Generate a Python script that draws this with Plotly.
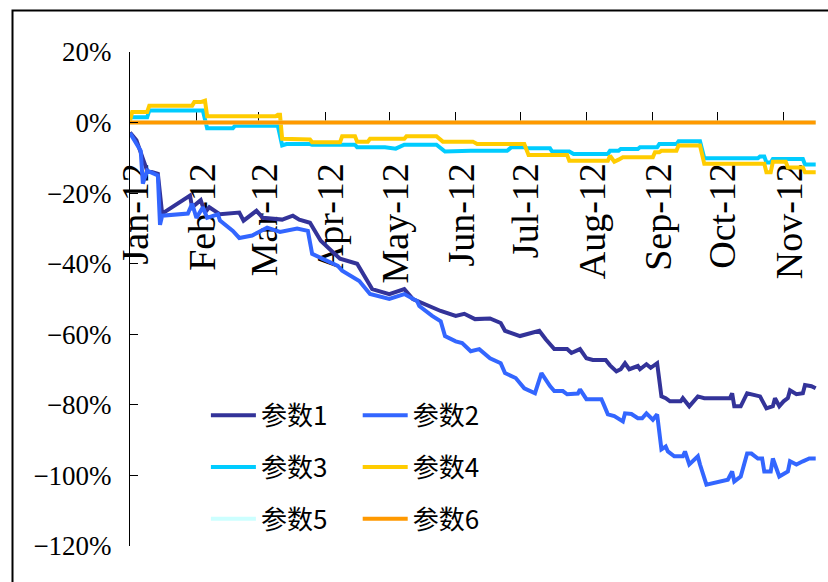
import datetime as dt
import plotly.graph_objects as go

START = dt.date(2012, 1, 1)

names = ["参数1", "参数2", "参数3", "参数4", "参数5", "参数6"]
colors = ["#333399", "#3366FF", "#00CCFF", "#FFCC00", "#CCFFFF", "#FF9900"]

# day offsets from 2012-01-01 and cumulative return (%)
s1_days = [0, 3, 6, 8, 13, 15, 28, 29, 33, 35, 37, 42, 51, 53, 59, 62, 71, 76, 79, 84,
           89, 98, 106, 109, 113, 121, 128, 132, 140, 145, 152, 156, 161, 168, 173, 175,
           182, 187, 191, 194, 198, 204, 206, 210, 213, 216, 222, 224, 227, 229, 231, 233,
           237, 238, 241, 243, 246, 248, 250, 252, 257, 258, 261, 265, 268, 280, 281, 282,
           285, 288, 294, 297, 300, 301, 303, 305, 307, 308, 311, 314, 315, 318, 320]
s1_vals = [-2.8, -5.0, -10.2, -13.6, -14.5, -25.8, -20.7, -24.0, -22.0, -25.5, -24.0, -26.0,
           -25.5, -27.8, -25.0, -27.0, -27.5, -26.4, -27.5, -28.4, -33.5, -38.6, -40.0,
           -42.9, -47.2, -48.6, -47.2, -50.0, -52.0, -53.4, -54.8, -54.2, -55.7, -55.5,
           -56.8, -59.0, -60.5, -59.8, -59.0, -61.4, -64.2, -64.2, -65.3, -64.2, -66.8,
           -67.3, -67.3, -68.8, -70.5, -69.9, -68.2, -69.9, -69.0, -69.9, -68.5, -69.5,
           -68.2, -77.6, -78.1, -79.0, -79.0, -78.1, -80.4, -77.6, -78.1, -78.1, -76.7,
           -80.4, -80.4, -76.7, -77.6, -81.0, -80.4, -78.1, -80.4, -79.0, -78.1, -75.9,
           -77.0, -76.7, -74.4, -74.7, -75.3]

s2_days = [0, 5, 6, 8, 13, 14, 15, 27, 29, 31, 34, 36, 41, 42, 48, 51, 57, 61, 64, 70, 78,
           83, 85, 97, 99, 107, 112, 121, 128, 134, 135, 141, 145, 147, 152, 155, 159, 163,
           168, 173, 175, 180, 184, 189, 192, 196, 198, 202, 204, 209, 210, 213, 220, 221,
           223, 226, 230, 231, 234, 237, 239, 241, 243, 244, 246, 248, 250, 251, 254, 258,
           259, 261, 265, 266, 269, 277, 279, 281, 282, 285, 288, 290, 293, 295, 296, 299,
           300, 303, 307, 308, 311, 314, 317, 320]
s2_vals = [-3.0, -8.0, -17.3, -13.6, -15.0, -29.0, -26.4, -25.8, -23.0, -27.0, -24.0, -27.0,
           -26.0, -27.8, -30.7, -32.7, -32.0, -30.7, -29.8, -31.0, -30.0, -30.7, -37.2,
           -40.6, -42.0, -44.9, -48.6, -50.0, -48.6, -50.6, -52.0, -54.8, -56.3, -60.5,
           -62.0, -62.5, -64.8, -64.2, -66.8, -68.2, -71.0, -72.4, -75.3, -76.7, -71.0,
           -74.7, -76.1, -76.1, -77.0, -76.8, -75.6, -78.4, -78.4, -79.8, -82.7, -83.2,
           -84.7, -82.4, -82.6, -83.8, -83.8, -82.4, -83.4, -84.2, -82.7, -92.6, -91.8,
           -93.2, -94.6, -94.6, -93.2, -96.9, -94.6, -96.9, -102.6, -101.7, -101.2, -98.9,
           -101.7, -100.3, -93.8, -93.8, -95.2, -95.2, -98.9, -98.9, -95.2, -100.3, -98.9,
           -96.0, -96.9, -96.0, -95.2, -95.2]

s3_days = [0, 8, 9, 34, 36, 48, 49, 69, 71, 73, 84, 85, 105, 106, 119, 124, 128, 143, 147,
           159, 176, 178, 184, 185, 196, 197, 205, 207, 223, 224, 228, 229, 237, 238, 246,
           247, 255, 256, 266, 268, 293, 294, 296, 297, 299, 300, 314, 315, 320]
s3_vals = [1.5, 1.5, 3.4, 3.4, -1.6, -1.6, -0.9, -0.9, -6.5, -6.1, -6.1, -6.3, -6.3, -7.0,
           -7.0, -7.4, -6.3, -6.3, -8.2, -8.0, -8.0, -7.0, -7.0, -7.3, -7.3, -8.2, -8.2,
           -8.9, -8.9, -8.0, -8.0, -7.5, -7.5, -7.0, -7.0, -6.1, -6.1, -5.3, -5.3, -10.1,
           -10.1, -9.6, -9.6, -11.3, -11.3, -10.3, -10.3, -11.9, -11.9]

s4_days = [0, 1, 8, 9, 29, 30, 33, 35, 36, 68, 69, 70, 71, 84, 85, 98, 99, 105, 106, 111,
           112, 128, 129, 143, 146, 160, 162, 184, 186, 204, 205, 223, 224, 226, 228, 230,
           244, 245, 247, 248, 255, 256, 266, 268, 296, 297, 299, 300, 306, 307, 314, 315,
           320]
s4_vals = [0.5, 3.0, 3.0, 4.8, 4.8, 5.8, 5.8, 6.2, 1.8, 1.8, 2.2, 2.2, -4.6, -4.8, -5.6,
           -5.6, -3.9, -3.9, -5.4, -5.4, -4.6, -4.6, -3.9, -3.9, -5.4, -5.4, -6.1, -6.1,
           -9.2, -9.2, -10.8, -10.8, -9.4, -11.1, -10.5, -9.8, -9.8, -8.4, -8.4, -8.0, -8.0,
           -6.5, -6.5, -11.7, -11.7, -14.1, -14.1, -11.1, -11.1, -12.7, -12.7, -14.1, -14.1]

s5_days = [0, 320]
s5_vals = [0.0, 0.0]
s6_days = [0, 320]
s6_vals = [0.0, 0.0]

all_days = [s1_days, s2_days, s3_days, s4_days, s5_days, s6_days]
all_vals = [s1_vals, s2_vals, s3_vals, s4_vals, s5_vals, s6_vals]
legend_ids = ["legend", "legend2", "legend", "legend2", "legend", "legend2"]

fig = go.Figure()
for i in range(6):
    x = [START + dt.timedelta(days=d) for d in all_days[i]]
    y = [v / 100.0 for v in all_vals[i]]
    fig.add_trace(go.Scatter(
        x=x, y=y, mode="lines", name=names[i],
        line=dict(color=colors[i], width=4),
        legend=legend_ids[i], legendgroup=names[i],
    ))

leg_common = dict(
    bgcolor="rgba(0,0,0,0)", borderwidth=0,
    font=dict(family="Noto Sans CJK SC", size=26, color="black"),
    orientation="v", traceorder="grouped", tracegroupgap=15,
    itemwidth=45, xanchor="left", yanchor="top",
)
fig.update_layout(
    width=828, height=582,
    margin=dict(l=130, r=8, t=52, b=36),
    paper_bgcolor="white", plot_bgcolor="white",
    showlegend=True,
    legend=dict(x=0.11, y=0.312, **leg_common),
    legend2=dict(x=0.33, y=0.312, **leg_common),
    xaxis=dict(
        type="date", range=["2012-01-01", "2012-11-18"],
        tick0="2012-01-01", dtick="M1", tickformat="%b-%y",
        tickangle=-90, ticks="inside", ticklen=11, tickcolor="black", tickwidth=1,
        tickfont=dict(family="Liberation Serif", size=38, color="black"),
        ticklabelstandoff=32, ticklabelshift=6,
        anchor="free", position=120 / 140, layer="below traces",
        showline=False, showgrid=False, zeroline=False, automargin=False,
    ),
    yaxis=dict(
        range=[-1.2, 0.2], dtick=0.2, tick0=0, tickformat=".0%",
        ticks="inside", ticklen=8, tickcolor="black", tickwidth=1,
        showline=True, linecolor="black", linewidth=1,
        tickfont=dict(family="Liberation Serif", size=27, color="black"),
        ticklabelstandoff=12,
        showgrid=False, zeroline=False, automargin=False,
    ),
    shapes=[dict(
        type="rect", xref="paper", yref="paper",
        x0=(12.5 - 130) / 690, x1=1.5, y0=-0.5, y1=(546 - 10.5) / 494,
        line=dict(color="black", width=2), fillcolor="rgba(0,0,0,0)", layer="above",
    )],
)

fig.write_html("out.html")
